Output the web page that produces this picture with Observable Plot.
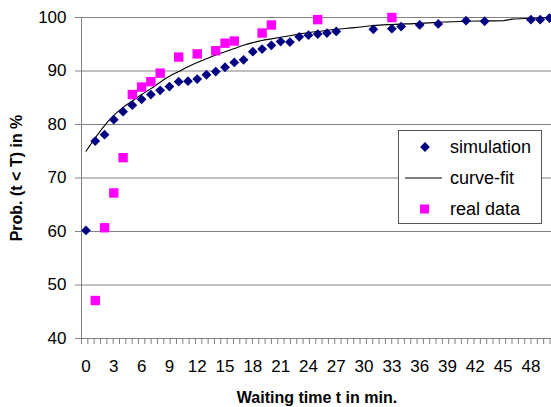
<!DOCTYPE html>
<html><head><meta charset="utf-8">
<script src="https://cdn.jsdelivr.net/npm/d3@7"></script>
<script src="https://cdn.jsdelivr.net/npm/@observablehq/plot@0.6"></script>
<style>body{margin:0;background:#fff;} svg{display:block;}</style>
</head><body><div id="chart"></div>
<script>
// Simulation (diamonds)
const simT = [0,1,2,3,4,5,6,7,8,9,10,11,12,13,14,15,16,17,18,19,20,21,22,23,24,25,26,27,31,33,34,36,38,41,43,48,49,50];
const simP = [60.2,76.9,78.1,80.9,82.4,83.6,84.7,85.6,86.4,87.1,88.0,88.1,88.5,89.3,89.9,90.7,91.6,92.1,93.6,94.1,94.8,95.5,95.4,96.4,96.7,96.9,97.1,97.4,97.8,97.9,98.3,98.6,98.8,99.4,99.3,99.6,99.6,99.9];
// Real data (squares)
const realT = [1,2,3,4,5,6,7,8,10,12,14,15,16,19,20,25,33];
const realP = [47.1,60.7,67.2,73.8,85.6,87.0,88.0,89.6,92.6,93.2,93.8,95.2,95.6,97.1,98.6,99.6,100.0];
// Curve fit
const fitT = [0,1,2,3,4,5,6,7,8,9,10,11,12,13,14,15,16,17,18,19,20,21,22,23,24,25,27,29,31,33,36,38,41,43,45,46,48,50];
const fitP = [75.0,77.5,79.8,81.7,83.2,84.4,85.6,86.7,87.9,89.0,89.9,90.8,91.6,92.3,93.0,93.6,94.2,94.8,95.3,95.7,96.0,96.3,96.6,96.9,97.2,97.4,97.8,98.1,98.5,98.7,98.9,99.1,99.3,99.35,99.4,99.7,99.85,100.0];
// Axis ticks
const yTicks = [40,50,60,70,80,90,100];
const yGrid = [50,60,70,80,90,100];
const xTickLabels = [0,3,6,9,12,15,18,21,24,27,30,33,36,39,42,45,48];
const legendLabels = ["simulation","curve-fit","real data"];
const xTitle = "Waiting time t in min.";
const yTitle = "Prob. (t < T) in %";

const sim = simT.map((t,i)=>({t, p: simP[i]}));
const real = realT.map((t,i)=>({t, p: realP[i]}));
const fit = fitT.map((t,i)=>({t, p: fitP[i]}));

const navy = "#000080", magenta = "#ff00ff", axisGray = "#808080";
const minorTicks = d3.range(75).map(k => -0.485 + k*0.683);

const plot = Plot.plot({
  width: 551, height: 407,
  marginLeft: 81, marginRight: 0, marginTop: 17, marginBottom: 69,
  style: {fontFamily: "'Liberation Sans', Arial, sans-serif", fontSize: "17px", color: "#000", background: "#fff"},
  x: {domain: [-0.485, 50.22]},
  y: {domain: [40, 100]},
  marks: [
    Plot.ruleY(yGrid, {stroke: axisGray, strokeWidth: 1}),
    Plot.ruleY([40], {stroke: axisGray, strokeWidth: 1}),
    Plot.ruleX([-0.485], {stroke: axisGray, strokeWidth: 1}),
    Plot.axisY({ticks: yTicks, tickSize: 6, tickPadding: 9, stroke: axisGray, label: null, fill: "#000", fontSize: 17}),
    Plot.axisX({ticks: minorTicks, tickSize: 6, tickFormat: () => "", stroke: axisGray, label: null}),
    Plot.axisX({ticks: xTickLabels, tickSize: 0, tickPadding: 21, label: null, fill: "#000", fontSize: 17}),
    Plot.line(fit, {x: "t", y: "p", stroke: "#000", strokeWidth: 1.1, curve: "monotone-x"}),
    Plot.dot(sim, {x: "t", y: "p", symbol: "diamond2", r: 4.4, fill: navy, stroke: "none"}),
    Plot.dot(real, {x: "t", y: "p", symbol: "square", r: 5.3, fill: magenta, stroke: "none"})
  ]
});
document.getElementById("chart").appendChild(plot);

const svg = d3.select(plot);
// axis titles
svg.append("text").attr("x", 317).attr("y", 403).attr("text-anchor", "middle")
  .attr("font-weight", "bold").attr("font-size", 16).attr("fill", "#000").text(xTitle);
svg.append("text").attr("transform", "translate(22,178) rotate(-90)").attr("text-anchor", "middle")
  .attr("font-weight", "bold").attr("font-size", 16).attr("fill", "#000").text(yTitle);

// legend
const lg = svg.append("g").attr("text-anchor", "start");
lg.append("rect").attr("x", 398.5).attr("y", 130.5).attr("width", 143).attr("height", 93)
  .attr("fill", "#fff").attr("stroke", "#555").attr("stroke-width", 1);
const rows = [147, 178, 209];
lg.append("path").attr("d", d3.symbol(d3.symbolDiamond2, Math.PI*4.4*4.4)()).attr("transform", `translate(425,${rows[0]})`).attr("fill", navy);
lg.append("line").attr("x1", 405).attr("x2", 442).attr("y1", rows[1]).attr("y2", rows[1]).attr("stroke", "#000").attr("stroke-width", 1.1);
lg.append("rect").attr("x", 420).attr("y", rows[2]-4.5).attr("width", 9).attr("height", 9).attr("fill", magenta);
legendLabels.forEach((s,i) => {
  lg.append("text").attr("x", 450).attr("y", rows[i]).attr("dy", "0.35em").attr("text-anchor", "start")
    .attr("font-size", 18).attr("fill", "#000").text(s);
});
</script>
</body></html>
